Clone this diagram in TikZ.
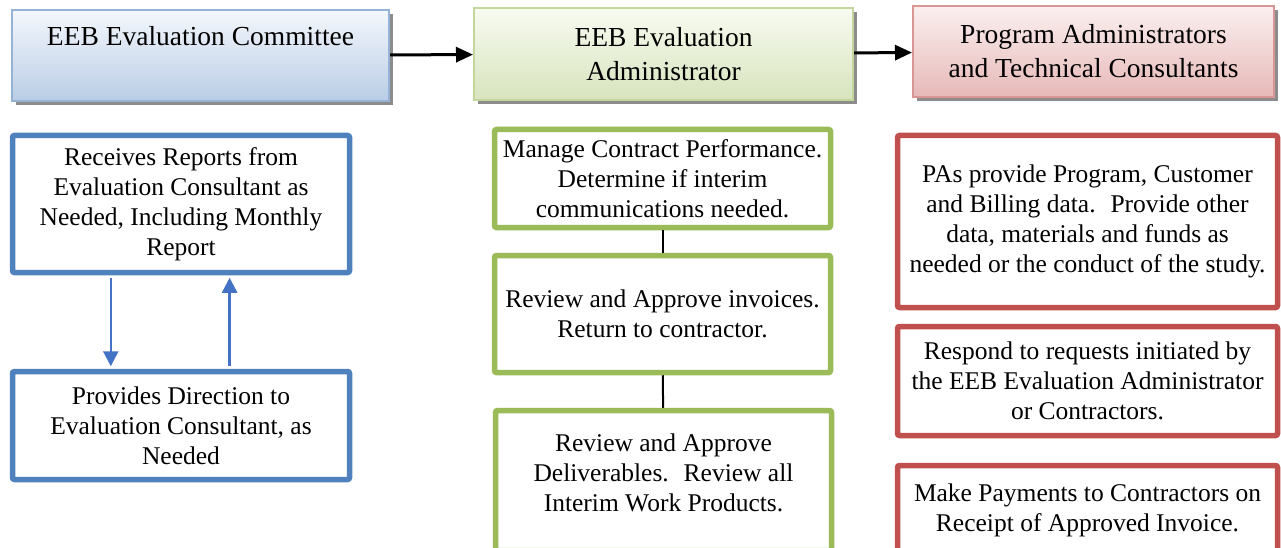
\documentclass[tikz,border=0pt]{standalone}
\usepackage{fontspec}
\setmainfont{Liberation Serif}
\usetikzlibrary{shadows,calc,arrows.meta}

\definecolor{hdrblueline}{HTML}{95B3D7}
\definecolor{hdrbluetop}{HTML}{F4F7FC}
\definecolor{hdrbluebot}{HTML}{B9CDE5}
\definecolor{hdrgreenline}{HTML}{C3D69B}
\definecolor{hdrgreentop}{HTML}{F8FBF1}
\definecolor{hdrgreenbot}{HTML}{D7E4BD}
\definecolor{hdrredline}{HTML}{D99694}
\definecolor{hdrredtop}{HTML}{FBEFEF}
\definecolor{hdrredbot}{HTML}{E6B9B8}
\definecolor{accblue}{HTML}{4F81BD}
\definecolor{accgreen}{HTML}{9BBB59}
\definecolor{accred}{HTML}{C0504D}
\definecolor{arrowblue}{HTML}{4472C4}

\newcommand{\hdrfont}{\fontsize{27.5}{34}\selectfont}
\newcommand{\bodyfont}{\fontsize{25.5}{30}\selectfont}

\tikzset{
    hdrbox/.style={line width=2pt, align=center, font=\hdrfont, inner sep=4pt,
        drop shadow={shadow xshift=4pt, shadow yshift=-4pt, fill=black!45, opacity=1}},
    hdrblue/.style={hdrbox, draw=hdrblueline, top color=hdrbluetop, bottom color=hdrbluebot},
    hdrgreen/.style={hdrbox, draw=hdrgreenline, top color=hdrgreentop, bottom color=hdrgreenbot},
    hdrred/.style={hdrbox, draw=hdrredline, top color=hdrredtop, bottom color=hdrredbot},
    taskbox/.style={line width=5.5pt, fill=white, rounded corners=2pt, align=center,
        font=\bodyfont, inner sep=4pt},
    bluebox/.style={taskbox, draw=accblue, minimum width=337pt},
    greenbox/.style={taskbox, draw=accgreen, minimum width=336pt},
    redbox/.style={taskbox, draw=accred, minimum width=380pt},
    hdrarrow/.style={line width=3pt, -{Triangle[length=17pt,width=15pt]}},
    bluearrow/.style={draw=arrowblue, line width=2.5pt, shorten <=2.5pt, shorten >=2.5pt,
        -{Triangle[length=15pt,width=15pt]}}
}

\begin{document}
\begin{tikzpicture}[x=1pt, y=-1pt]
    \path[use as bounding box, clip] (0,0) rectangle (1281,548);

    % headers
    \node[hdrblue, minimum width=377pt, minimum height=91pt] (committee) at (200.5,55.5)
        {\strut EEB Evaluation Committee\\ \strut};
    \node[hdrgreen, minimum width=379pt, minimum height=92pt] (admin) at (663.5,54)
        {EEB Evaluation\\Administrator};
    \node[hdrred, minimum width=361pt, minimum height=91pt] (consult) at (1093.5,51.5)
        {Program Administrators\\and Technical Consultants};

    \draw [hdrarrow] (committee) -- (admin);
    \draw [hdrarrow] (admin) -- (consult);

    % committee column
    \node[bluebox, minimum height=137pt] (reports) at (181,204)
        {Receives Reports from\\Evaluation Consultant as\\Needed, Including Monthly\\Report};
    \node[bluebox, minimum height=108pt] (direction) at (181,425.5)
        {Provides Direction to\\Evaluation Consultant, as\\Needed};

    \draw [bluearrow] ($(reports.south west)!.295!(reports.south east)$)
        -- ($(direction.north west)!.295!(direction.north east)$);
    \draw [bluearrow] ($(direction.north west)!.642!(direction.north east)$)
        -- ($(reports.south west)!.642!(reports.south east)$);

    % administrator column
    \node[greenbox, minimum height=98pt] (manage) at (662.5,178.5)
        {Manage Contract Performance.\\Determine if interim\\communications needed.};
    \node[greenbox, minimum height=117pt] (invoices) at (662.5,314)
        {Review and Approve invoices.\\Return to contractor.};
    \node[greenbox, minimum height=140pt, text depth=16pt] (deliver) at (663.5,480.5)
        {Review and Approve\\Deliverables.~ Review all\\Interim Work Products.};

    \draw [line width=2pt] (manage) -- (invoices);
    \draw [line width=2pt] (invoices) -- (deliver);

    % PA column
    \node[redbox, minimum height=172pt] (provide) at (1087.5,221.5)
        {PAs provide Program, Customer\\and Billing data.~ Provide other\\data, materials and funds as\\needed or the conduct of the study.};
    \node[redbox, minimum height=109pt] (respond) at (1087.5,381)
        {Respond to requests initiated by\\the EEB Evaluation Administrator\\or Contractors.};
    \node[redbox, minimum height=89pt] (payments) at (1087.5,510)
        {Make Payments to Contractors on\\Receipt of Approved Invoice.};

\end{tikzpicture}
\end{document}
